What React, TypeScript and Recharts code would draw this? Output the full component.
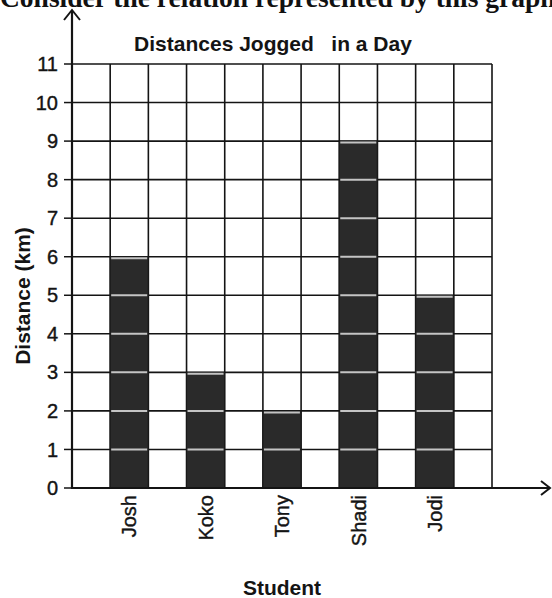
import React from 'react';
import { BarChart, Bar, XAxis, YAxis, CartesianGrid, Label } from 'recharts';

// values
const STUDENTS = ['Josh', 'Koko', 'Tony', 'Shadi', 'Jodi'];
const DISTANCES = [6, 3, 2, 9, 5];
const Y_TICKS = [0, 1, 2, 3, 4, 5, 6, 7, 8, 9, 10, 11];
const SLOT_COUNT = 11; // the grid has 11 columns, students sit in every other one

const W = 552;
const H = 598;
const MARGIN = { top: 64, right: 60, left: 0, bottom: 0 };
const Y_AXIS_W = 72;
const X_AXIS_H = 110;
const PLOT_LEFT = MARGIN.left + Y_AXIS_W;
const PLOT_BOTTOM = H - MARGIN.bottom - X_AXIS_H;

const FONT = '"Liberation Sans", Arial, Helvetica, sans-serif';
const INK = '#141414';

const data = Array.from({ length: SLOT_COUNT }, (_, i) => {
  const has = i % 2 === 1;
  const k = (i - 1) / 2;
  return { slot: i, name: has ? STUDENTS[k] : '', km: has ? DISTANCES[k] : null };
});

// dark bar with the light unit lines that show through in the scan
const StripedBar = (props: any) => {
  const { x, y, width, height, payload } = props;
  const v = payload?.km;
  if (!v || !height) return null;
  const unit = height / v;
  const lines = [];
  for (let k = 1; k <= v; k++) {
    const yy = y + height - k * unit + (k === v ? 1.5 : 0);
    lines.push(
      <line key={k} x1={x + 1} x2={x + width - 1} y1={yy} y2={yy} stroke="#c4c4c4" strokeWidth={2} />
    );
  }
  return (
    <g>
      <rect x={x} y={y} width={width} height={height} fill="#2a2a2a" stroke="#1a1a1a" strokeWidth={1} />
      {lines}
    </g>
  );
};

const StudentTick = (props: any) => {
  const { x, y, index } = props;
  const name = data[index]?.name;
  if (!name) return null;
  return (
    <g transform={`translate(${x},${y})`}>
      <text
        transform="rotate(-90)"
        x={-7}
        y={0}
        dy="0.36em"
        textAnchor="end"
        fontFamily={FONT}
        fontSize={20}
        fill={INK}
        stroke={INK}
        strokeWidth={0.4}
      >
        {name}
      </text>
    </g>
  );
};

export default function App() {
  return (
    <div style={{ position: 'absolute', left: 0, top: 0, width: W, height: H, background: '#fff' }}>
      <BarChart width={W} height={H} data={data} margin={MARGIN} barCategoryGap={0}>
        <CartesianGrid
          stroke={INK}
          strokeWidth={1.6}
          verticalCoordinatesGenerator={({ offset }: any) =>
            Array.from({ length: SLOT_COUNT + 1 }, (_, i) => offset.left + (offset.width * i) / SLOT_COUNT)
          }
        />
        <XAxis
          dataKey="slot"
          type="category"
          interval={0}
          height={X_AXIS_H}
          axisLine={false}
          tickLine={false}
          tickSize={0}
          tickMargin={0}
          tick={<StudentTick />}
        >
          <Label
            content={({ viewBox }: any) => (
              <text
                x={viewBox.x + viewBox.width / 2}
                y={viewBox.y + 107}
                textAnchor="middle"
                fontFamily={FONT}
                fontWeight="bold"
                fontSize={21}
                fill={INK}
              >
                Student
              </text>
            )}
          />
        </XAxis>
        <YAxis
          domain={[0, 11]}
          ticks={Y_TICKS}
          interval={0}
          width={Y_AXIS_W}
          axisLine={false}
          tickSize={8}
          tickMargin={6}
          tickLine={{ stroke: INK, strokeWidth: 1.5 }}
          tick={{ fontFamily: FONT, fontSize: 20, fill: INK, stroke: INK, strokeWidth: 0.4 }}
        >
          <Label
            content={({ viewBox }: any) => {
              const cx = viewBox.x + 30;
              const cy = viewBox.y + viewBox.height / 2 + 20;
              return (
                <text
                  x={cx}
                  y={cy}
                  transform={`rotate(-90, ${cx}, ${cy})`}
                  textAnchor="middle"
                  fontFamily={FONT}
                  fontWeight="bold"
                  fontSize={21}
                  fill={INK}
                >
                  Distance (km)
                </text>
              );
            }}
          />
        </YAxis>
        <Bar dataKey="km" isAnimationActive={false} shape={<StripedBar />} />
      </BarChart>
      <svg
        width={W}
        height={H}
        style={{ position: 'absolute', left: 0, top: 0, pointerEvents: 'none' }}
      >
        <text x={0} y={7} fontFamily='"Liberation Serif", "Times New Roman", serif' fontWeight="bold" fontSize={27.5} fill="#111">
          Consider the relation represented by this graph
        </text>
        <text
          x={273}
          y={51}
          textAnchor="middle"
          fontFamily={FONT}
          fontWeight="bold"
          fontSize={21}
          fill={INK}
          style={{ whiteSpace: 'pre' }}
        >
          {'Distances Jogged   in a Day'}
        </text>
        {/* axes with arrow heads */}
        <line x1={PLOT_LEFT} x2={PLOT_LEFT} y1={PLOT_BOTTOM + 1} y2={11} stroke={INK} strokeWidth={2.2} />
        <polyline
          points={`${PLOT_LEFT - 8},${20} ${PLOT_LEFT},${10} ${PLOT_LEFT + 8},${20}`}
          fill="none"
          stroke={INK}
          strokeWidth={2}
        />
        <line x1={PLOT_LEFT - 1} x2={549} y1={PLOT_BOTTOM} y2={PLOT_BOTTOM} stroke={INK} strokeWidth={2.2} />
        <polyline
          points={`${541},${PLOT_BOTTOM - 7} ${550},${PLOT_BOTTOM} ${541},${PLOT_BOTTOM + 7}`}
          fill="none"
          stroke={INK}
          strokeWidth={2}
        />
      </svg>
    </div>
  );
}
